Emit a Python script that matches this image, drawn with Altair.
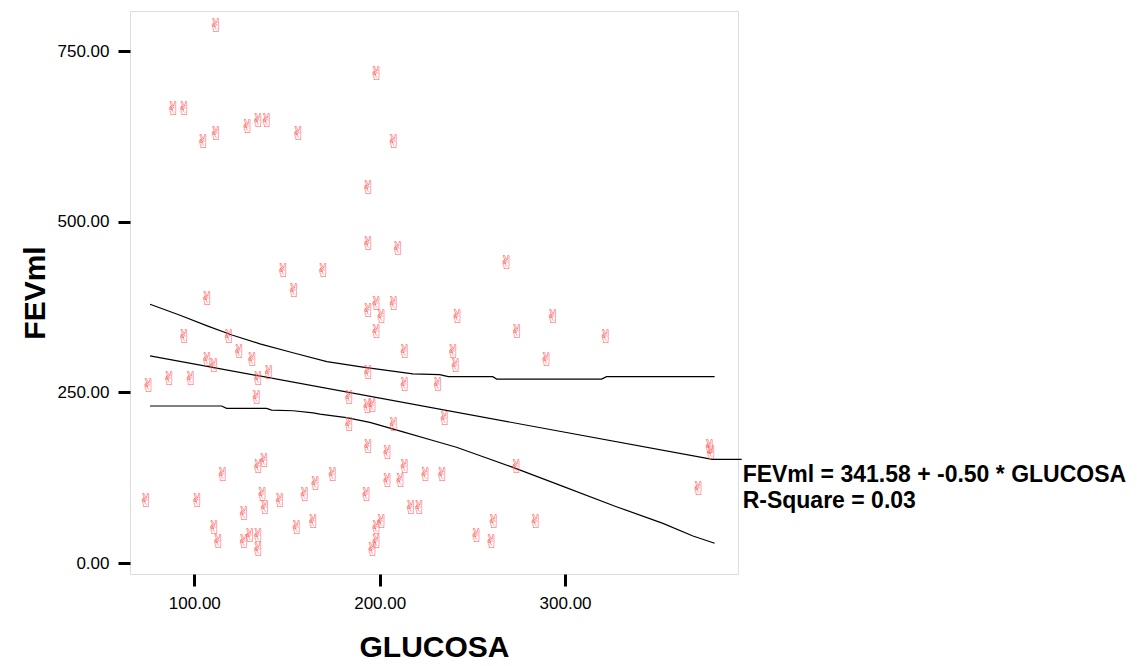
import altair as alt
import pandas as pd

# Scatter data (GLUCOSA, FEVml)
glucosa = [111.7, 198.3, 88.6, 94.6, 111.7, 104.8, 128.7, 134.5, 139.0, 156.0,
           207.6, 193.8, 193.8, 209.9, 147.9, 169.5, 153.7, 107.0, 193.8, 198.3,
           207.6, 201.0, 198.3, 94.6, 118.7, 124.2, 131.2, 107.0, 110.6, 140.2,
           134.5, 86.5, 98.0, 75.2, 193.8, 213.5, 213.5, 231.5, 133.6, 183.5,
           193.4, 196.1, 183.5, 207.6, 193.8, 204.2, 134.5, 137.7, 115.3, 174.6,
           165.4, 213.5, 224.7, 204.2, 211.2, 73.9, 101.6, 136.8, 146.2, 159.6,
           192.9, 138.1, 126.8, 216.8, 221.3, 164.1, 155.2, 110.7, 201.0, 198.3,
           112.9, 126.8, 130.0, 134.5, 134.5, 198.3, 196.1, 268.4, 242.0, 293.5,
           274.1, 321.9, 239.6, 241.0, 289.9, 235.1, 233.7, 273.8, 378.0, 378.9,
           372.0, 261.5, 252.2, 260.3, 284.2]
fevml = [787, 717, 665, 665, 629, 617, 638, 648, 648, 629,
         617, 549, 468, 459.5, 428, 428, 399, 387, 369.6, 379,
         379, 360, 339, 330.6, 330.6, 309.5, 298, 298, 289, 279,
         269.5, 269.5, 269.5, 259.7, 278.7, 309.5, 260.7, 260.7, 241.2, 241.2,
         228, 230.4, 202, 202, 169.5, 160.7, 141, 149.4, 128.9, 128.9,
         115.3, 141, 128.9, 120.6, 120.6, 91.3, 91.3, 99.6, 91.3, 99.6,
         99.6, 80.1, 71.8, 80.1, 80.1, 60.5, 51.7, 51.7, 60.5, 51.7,
         31.2, 31.2, 40, 40, 19, 31.2, 19, 439, 360, 360,
         339, 330.6, 309.5, 289, 298, 210.5, 128.9, 141, 169.5, 161.6,
         108.4, 60.5, 40, 31.2, 60.5]

# Fit line and confidence band lines
fit_x = [76.1, 379.5, 395.3]
fit_y = [303.5, 151.8, 151.8]
upper_x = [76.1, 92.3, 107.3, 120.3, 135.4, 153.2, 171.5, 190.9, 217.9, 232.4,
           237.0, 261.0, 263.1, 319.7, 322.4, 380.7]
upper_y = [379, 363, 347, 334, 321, 308, 295, 287, 277, 276,
           273, 273, 269.5, 269.5, 273, 273]
lower_x = [76.1, 114.7, 117.4, 139.0, 141.7, 153.3, 164.1, 167.7, 182.1, 194.7,
           212.6, 230.6, 241.4, 255.8, 271.9, 297.1, 327.7, 352.8, 369.0, 380.7]
lower_y = [230, 230, 226.6, 226.6, 224, 223, 220, 218, 213, 206,
           192, 178, 169.5, 155.7, 140, 114, 82.5, 58, 39.5, 29]

# Annotation
ann_text = ["FEVml = 341.58 + -0.50 * GLUCOSA", "R-Square = 0.03"]
ann_x = [395.8, 395.8]
ann_y = [119, 80]

x_ticks = [100, 200, 300]
y_ticks = [0, 250, 500, 750]
x_domain = [65.3, 393.3]
y_domain = [-16.1, 808.6]

pts = pd.DataFrame({"GLUCOSA": glucosa, "FEVml": fevml})
lines = pd.concat([
    pd.DataFrame({"x": fit_x, "y": fit_y, "s": "fit", "o": range(len(fit_x))}),
    pd.DataFrame({"x": upper_x, "y": upper_y, "s": "upper", "o": range(len(upper_x))}),
    pd.DataFrame({"x": lower_x, "y": lower_y, "s": "lower", "o": range(len(lower_x))}),
])
ann = pd.DataFrame({"t": ann_text, "x": ann_x, "y": ann_y})

xs = alt.Scale(domain=x_domain, nice=False, zero=False)
ys = alt.Scale(domain=y_domain, nice=False, zero=False)

xaxis = alt.Axis(values=x_ticks, format=".2f", title="GLUCOSA", grid=False, domain=False,
                 tickColor="black", tickWidth=3, tickSize=12, labelPadding=9,
                 labelFont="Liberation Sans", labelFontSize=17, labelColor="black",
                 titleFont="Liberation Sans", titleFontSize=30, titleFontWeight="bold",
                 titleColor="black", titleBaseline="alphabetic", titleY=82)
yaxis = alt.Axis(values=y_ticks, format=".2f", title="FEVml", grid=False, domain=False,
                 tickColor="black", tickWidth=3, tickSize=12, labelPadding=9,
                 labelFont="Liberation Sans", labelFontSize=17, labelColor="black",
                 titleFont="Liberation Sans", titleFontSize=30, titleFontWeight="bold",
                 titleColor="black", titleBaseline="alphabetic", titleX=-86, titleAngle=270)

points = alt.Chart(pts).mark_text(text="✌", font="DejaVu Sans", fontSize=19,
                                  color="#ff6060", baseline="middle", align="center").encode(
    x=alt.X("GLUCOSA:Q", scale=xs, axis=xaxis),
    y=alt.Y("FEVml:Q", scale=ys, axis=yaxis),
)

lns = alt.Chart(lines).mark_line(color="black", strokeWidth=1.2, clip=False).encode(
    x=alt.X("x:Q", scale=xs),
    y=alt.Y("y:Q", scale=ys),
    detail="s:N",
    order="o:Q",
)

txt = alt.Chart(ann).mark_text(align="left", baseline="alphabetic", font="Liberation Sans",
                               fontSize=23, fontWeight="bold", color="black", clip=False).encode(
    x=alt.X("x:Q", scale=xs),
    y=alt.Y("y:Q", scale=ys),
    text="t:N",
)

chart = alt.layer(lns, points, txt).properties(
    width=608, height=563,
    autosize=alt.AutoSizeParams(type="none"),
    padding={"left": 122, "top": 3, "right": 390, "bottom": 84},
).configure_view(stroke="#999999", strokeWidth=1.5).configure(background="white")

chart.save("out.html", embed_options={"renderer": "svg", "actions": False})
